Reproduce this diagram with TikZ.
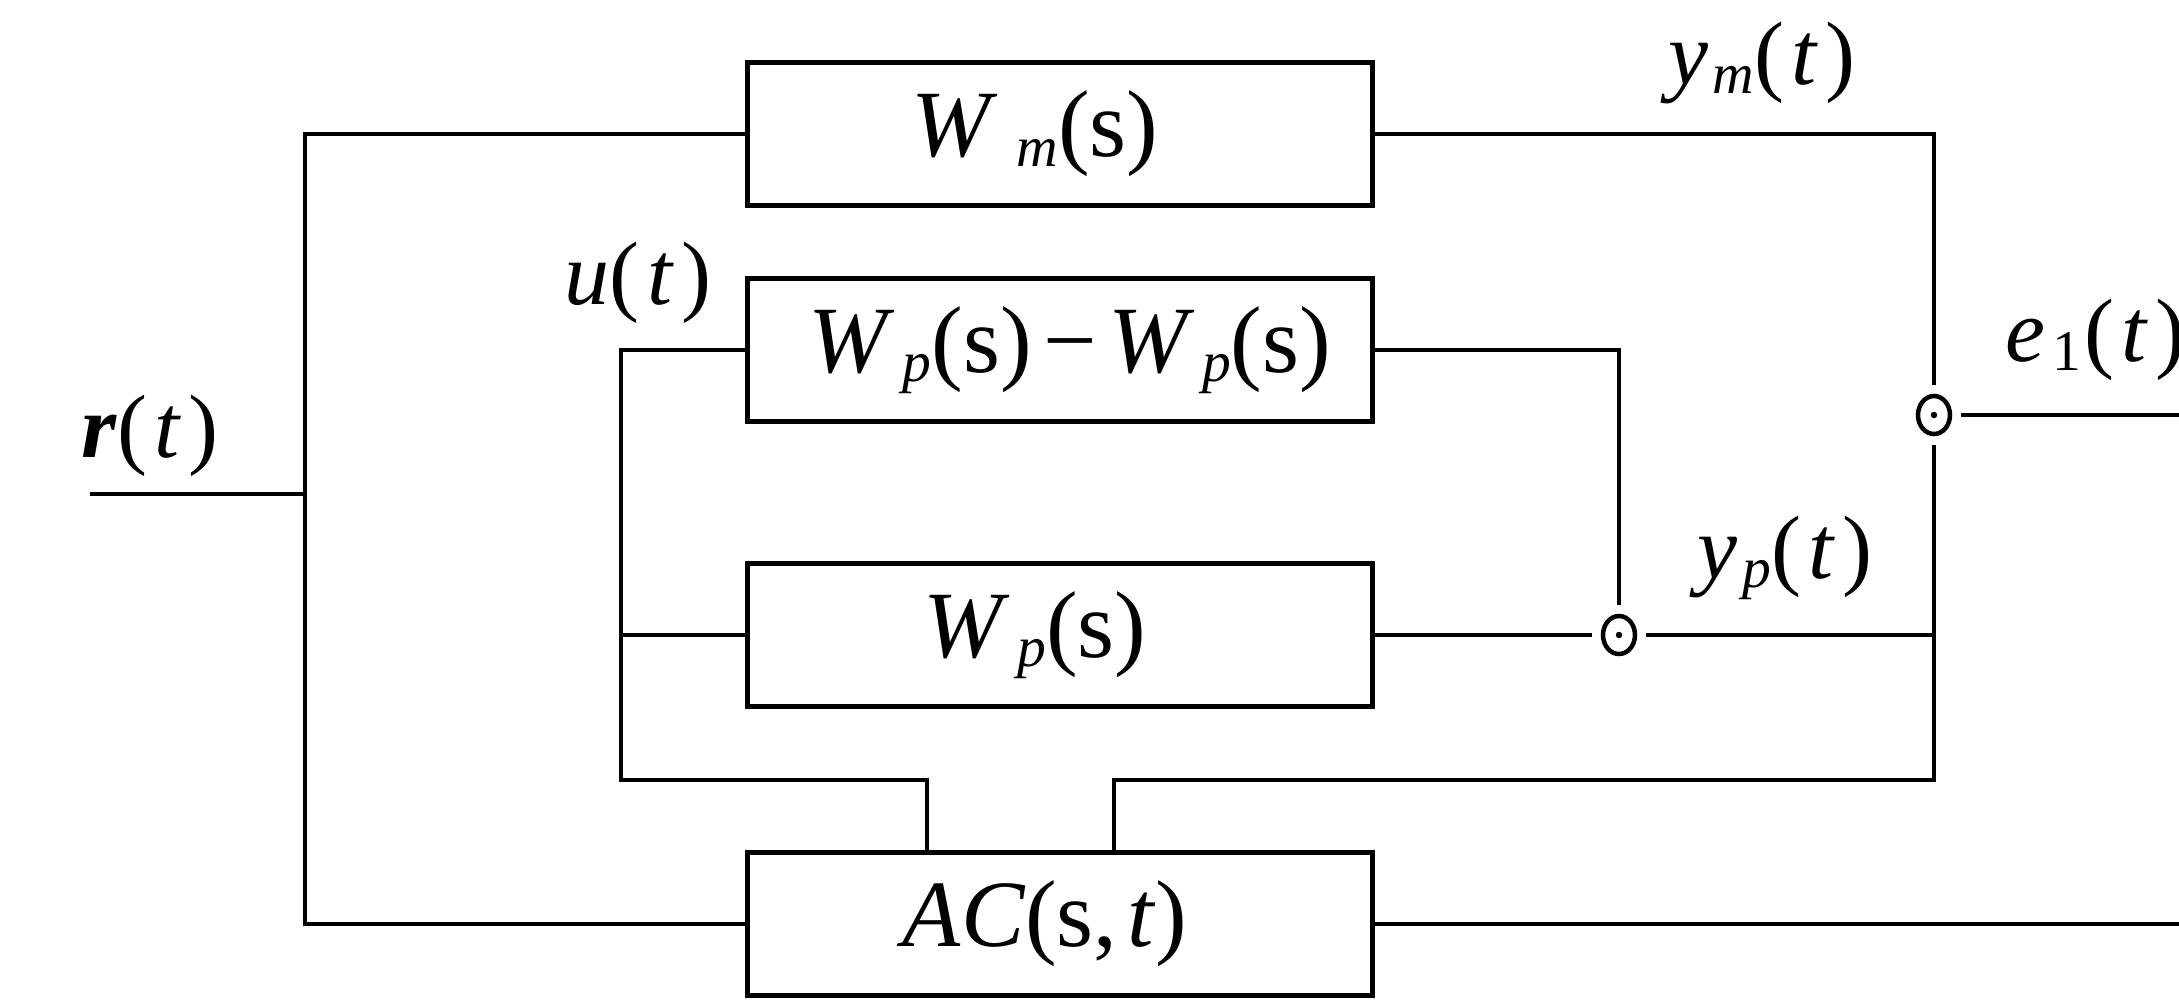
\documentclass[tikz,border=0pt]{standalone}
\usepackage{fontspec}
\setmainfont{Liberation Serif}
\usetikzlibrary{shapes.geometric}

% small index set close to the baseline after a symbol
\newcommand{\sbs}[1]{\raisebox{-.1em}{\fontsize{11.5}{12}\selectfont #1}}
\newcommand{\vv}[1]{\textit{#1}}
% argument in parentheses with a little air inside
\newcommand{\fnarg}[1]{(\kern.08em#1\kern.08em)}

\begin{document}
\begin{tikzpicture}[x=0.2pt,y=-0.2pt,
  wire/.style={line width=0.95pt},
  block/.style={draw,line width=0.95pt,rectangle,minimum width=125pt,
    minimum height=28.6pt,inner sep=0pt,font=\fontsize{19}{22}\selectfont},
  lbl/.style={inner sep=0pt,font=\fontsize{18}{21}\selectfont},
  junc/.style={draw,ellipse,line width=0.9pt,minimum width=6.4pt,
    minimum height=7.6pt,inner sep=0pt,outer sep=2.2pt}
]
\useasboundingbox (0,0) rectangle (2179,1003);

% blocks (a trailing kern moves the formula slightly left of centre)
\node[block] (wm) at (1060,134) {\vv{W}\kern.2em\sbs{\vv{m}}(s)\kern10pt};
\node[block] (wd) at (1060,350) {\kern4pt\vv{W}\kern.08em\sbs{\vv{p}}(s)\kern.12em\char"2212\kern.12em\vv{W}\kern.08em\sbs{\vv{p}}(s)};
\node[block] (wp) at (1060,635) {\vv{W}\kern.08em\sbs{\vv{p}}(s)\kern10pt};
\node[block] (ac) at (1060,924) {\vv{AC}(s,\kern.1em\vv{t})\kern6pt};

% junction points
\node[junc] (c1) at (1934,415) {};
\fill (c1.center) circle (0.65pt);
\node[junc] (c2) at (1619,635) {};
\fill (c2.center) circle (0.65pt);

% free ends and corners
\coordinate (rin) at (90,494);
\coordinate (rj) at (305,494);
\coordinate (ub) at (621,780);
\coordinate (fb) at (1934,780);
\coordinate (eout) at (2179,417);
\coordinate (acout) at (2179,924);

% reference input
\draw[wire] (rin) -- (rj);
\draw[wire] (wm.west) -| (rj) |- (ac.west);

% model and error
\draw[wire] (wm.east) -| (c1.north);
\draw[wire] (c1.east) -- (c1.east -| eout);

% plant branches
\draw[wire] (wd.west) -| (ub) -| ([xshift=-26.6pt]ac.north);
\draw[wire] (wp.west) -- (wp.west -| ub);
\draw[wire] (wd.east) -| (c2.north);
\draw[wire] (wp.east) -- (c2.west);
\draw[wire] (c2.east) -- (c2.east -| fb);

% feedback to the adaptive controller
\draw[wire] (c1.south) -- (fb) -| ([xshift=10.8pt]ac.north);
\draw[wire] (ac.east) -- (acout);

% signal labels
\node[lbl] (lym) at (1762,63) {\vv{y}\kern.05em\sbs{\vv{m}}\fnarg{\vv{t}}};
\node[lbl] (lu) at (638,283) {\vv{u}\fnarg{\vv{t}}};
\node[lbl] (lr) at (150,436) {\textbf{\vv{r}}\fnarg{\vv{t}}};
\node[lbl] (lyp) at (1785,558) {\vv{y}\kern.05em\sbs{\vv{p}}\fnarg{\vv{t}}};
\node[lbl,anchor=west] (le) at (2004,340) {\vv{e}\kern.08em\sbs{1}\kern.04em\fnarg{\vv{t}}};
\end{tikzpicture}
\end{document}
